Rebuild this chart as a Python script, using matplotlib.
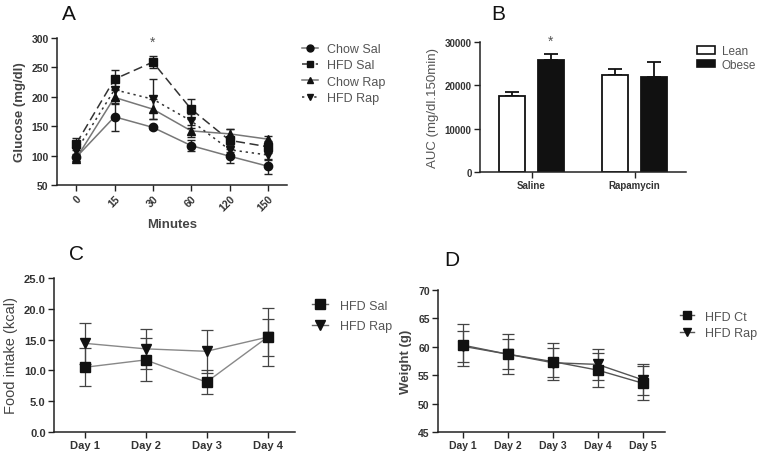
import matplotlib
matplotlib.use("Agg")
import matplotlib.pyplot as plt
import numpy as np
from matplotlib.lines import Line2D
from matplotlib.patches import Patch

plt.rcParams['font.family'] = ['Liberation Sans', 'DejaVu Sans']

# ---------------- Data ----------------
# Panel A
minutes = ["0", "15", "30", "60", "120", "150"]
chow_sal = [97, 166, 148, 117, 99, 82]
chow_sal_err = [6, 24, 3, 10, 12, 13]
hfd_sal = [120, 230, 259, 179, 126, 115]
hfd_sal_err = [10, 16, 10, 17, 20, 10]
chow_rap = [95, 199, 179, 142, 137, 128]
chow_rap_err = [5, 12, 17, 10, 8, 6]
hfd_rap = [108, 212, 196, 159, 110, 101]
hfd_rap_err = [8, 18, 34, 12, 8, 8]

# Panel B
treatments = ["Saline", "Rapamycin"]
auc_lean = [17600, 22500]
auc_lean_err = [900, 1200]
auc_obese = [25800, 22000]
auc_obese_err = [1400, 3400]

# Panel C
days_c = ["Day 1", "Day 2", "Day 3", "Day 4"]
food_sal = [10.5, 11.7, 8.1, 15.4]
food_sal_err = [3.1, 3.5, 2.0, 4.7]
food_rap = [14.4, 13.5, 13.1, 15.4]
food_rap_err = [3.3, 3.2, 3.5, 3.0]

# Panel D
days_d = ["Day 1", "Day 2", "Day 3", "Day 4", "Day 5"]
wt_ct = [60.3, 58.7, 57.4, 55.9, 53.6]
wt_ct_err = [3.7, 3.5, 3.3, 3.0, 3.0]
wt_rap = [60.1, 58.7, 57.2, 56.9, 54.2]
wt_rap_err = [2.7, 2.6, 2.6, 2.7, 2.7]

# ---------------- Figure ----------------
W, H = 758, 460
fig = plt.figure(figsize=(W / 100, H / 100), dpi=100)

def ax_px(l, r, b, t):
    return fig.add_axes([l / W, 1 - b / H, (r - l) / W, (b - t) / H])

TXT = '#555555'
DARK = '#222222'

def style(ax, size=7.5):
    for s in ['top', 'right']:
        ax.spines[s].set_visible(False)
    for s in ['left', 'bottom']:
        ax.spines[s].set_color(DARK)
        ax.spines[s].set_linewidth(1.1)
    ax.tick_params(direction='out', length=4, width=1.0, color=DARK,
                   labelsize=size, labelcolor='#333333', pad=2)
    for lb in ax.get_xticklabels() + ax.get_yticklabels():
        lb.set_fontweight('bold')

def panel_label(x, y, s):
    fig.text(x / W, 1 - y / H, s, fontsize=15, color='#111111',
             ha='left', va='center')

# ---- Panel A ----
axA = ax_px(57, 287, 186, 39)
xa = np.arange(len(minutes))
series_A = [
    (chow_sal, chow_sal_err, 'o', '-', '#777777', 'Chow Sal'),
    (hfd_sal, hfd_sal_err, 's', (0, (6, 3)), '#333333', 'HFD Sal'),
    (chow_rap, chow_rap_err, '^', '-', '#777777', 'Chow Rap'),
    (hfd_rap, hfd_rap_err, 'v', (0, (1.5, 2.5)), '#333333', 'HFD Rap'),
]
handlesA = []
for vals, err, m, ls, lc, lab in series_A:
    axA.plot(xa, vals, linestyle=ls, color=lc, lw=1.1, zorder=2)
    axA.errorbar(xa, vals, yerr=err, fmt='none', ecolor='#222222',
                 elinewidth=1.0, capsize=3, capthick=1.0, zorder=3)
    axA.plot(xa, vals, linestyle='none', marker=m, ms=6, color='#111111', zorder=4)
    handlesA.append(Line2D([0], [0], linestyle=ls, color=lc, lw=1.1, marker=m,
                           ms=5, markerfacecolor='#111111', markeredgecolor='#111111'))
axA.set_xlim(-0.5, 5.5)
axA.set_ylim(50, 300)
axA.set_yticks([50, 100, 150, 200, 250, 300])
axA.set_xticks(xa)
axA.set_xticklabels(minutes)
style(axA)
for lb in axA.get_xticklabels():
    lb.set_rotation(45)
    lb.set_ha('right')
    lb.set_rotation_mode('anchor')
axA.set_xlabel('Minutes', fontsize=9.5, fontweight='bold', color='#444444', labelpad=4)
axA.set_ylabel('Glucose (mg/dl)', fontsize=9.5, fontweight='bold', color='#444444', labelpad=4)
axA.text(2, 293, '*', ha='center', va='center', fontsize=10, color='#555555')
fig.legend(handles=handlesA, labels=[s[5] for s in series_A], loc='center left',
           bbox_to_anchor=(302 / W, 1 - 74.5 / H), frameon=False, fontsize=9,
           labelcolor=TXT, handlelength=1.3, handletextpad=0.7, labelspacing=0.35,
           borderpad=0, borderaxespad=0)
panel_label(62, 14, 'A')

# ---- Panel B ----
axB = ax_px(480, 686, 173, 43)
xb = np.arange(len(treatments))
off, bw = 0.187, 0.254
axB.bar(xb - off, auc_lean, width=bw, color='white', edgecolor='#111111', lw=1.3, zorder=2)
axB.bar(xb + off, auc_obese, width=bw, color='#111111', edgecolor='#111111', lw=1.3, zorder=2)
axB.errorbar(xb - off, auc_lean, yerr=[[0, 0], auc_lean_err], fmt='none', ecolor='#111111',
             elinewidth=1.3, capsize=5, capthick=1.3, zorder=1)
axB.errorbar(xb + off, auc_obese, yerr=[[0, 0], auc_obese_err], fmt='none', ecolor='#111111',
             elinewidth=1.3, capsize=5, capthick=1.3, zorder=1)
axB.set_xlim(-0.5, 1.5)
axB.set_ylim(0, 30000)
axB.set_yticks([0, 10000, 20000, 30000])
axB.set_xticks(xb)
axB.set_xticklabels(treatments)
style(axB, 7)
axB.set_ylabel('AUC (mg/dl.150min)', fontsize=9.5, color=TXT, labelpad=4)
axB.text(0 + off, 30300, '*', ha='center', va='center', fontsize=10, color='#555555',
         clip_on=False)
fig.legend(handles=[Patch(facecolor='white', edgecolor='#111111', lw=1.2),
                    Patch(facecolor='#111111', edgecolor='#111111', lw=1.2)],
           labels=['Lean', 'Obese'], loc='center left',
           bbox_to_anchor=(697 / W, 1 - 59 / H), frameon=False, fontsize=8.5,
           labelcolor=TXT, handlelength=1.5, handleheight=0.6, handletextpad=0.6,
           labelspacing=0.15, borderpad=0, borderaxespad=0)
panel_label(491, 14, 'B')

# ---- Panel C ----
axC = ax_px(54, 295, 433, 279)
xc = np.arange(len(days_c))
handlesC = []
for vals, err, m, lab in [(food_sal, food_sal_err, 's', 'HFD Sal'),
                          (food_rap, food_rap_err, 'v', 'HFD Rap')]:
    axC.plot(xc, vals, '-', color='#888888', lw=1.0, zorder=2)
    axC.errorbar(xc, vals, yerr=err, fmt='none', ecolor='#444444',
                 elinewidth=0.9, capsize=4, capthick=0.9, zorder=3)
    axC.plot(xc, vals, linestyle='none', marker=m, ms=7, color='#111111', zorder=4)
    handlesC.append(Line2D([0], [0], linestyle='-', color='#666666', lw=1.0, marker=m,
                           ms=6.5, markerfacecolor='#111111', markeredgecolor='#111111'))
axC.set_xlim(-0.5, 3.45)
axC.set_ylim(0, 25)
axC.set_yticks([0, 5, 10, 15, 20, 25])
axC.set_yticklabels(['0.0', '5.0', '10.0', '15.0', '20.0', '25.0'])
axC.set_xticks(xc)
axC.set_xticklabels(days_c)
style(axC, 8)
axC.set_ylabel('Food intake (kcal)', fontsize=10.5, color='#444444', labelpad=4)
fig.legend(handles=handlesC, labels=['HFD Sal', 'HFD Rap'], loc='center left',
           bbox_to_anchor=(312 / W, 1 - 317 / H), frameon=False, fontsize=9,
           labelcolor=TXT, handlelength=1.3, handletextpad=0.9, labelspacing=0.7,
           borderpad=0, borderaxespad=0)
panel_label(69, 255, 'C')

# ---- Panel D ----
axD = ax_px(438, 665, 433, 291)
xd = np.arange(len(days_d))
handlesD = []
for vals, err, m, lab in [(wt_ct, wt_ct_err, 's', 'HFD Ct'),
                          (wt_rap, wt_rap_err, 'v', 'HFD Rap')]:
    axD.plot(xd, vals, '-', color='#555555', lw=1.0, zorder=2)
    axD.errorbar(xd, vals, yerr=err, fmt='none', ecolor='#444444',
                 elinewidth=0.9, capsize=4, capthick=0.9, zorder=3)
    axD.plot(xd, vals, linestyle='none', marker=m, ms=6.5, color='#111111', zorder=4)
    handlesD.append(Line2D([0], [0], linestyle='-', color='#555555', lw=1.0, marker=m,
                           ms=6, markerfacecolor='#111111', markeredgecolor='#111111'))
axD.set_xlim(-0.55, 4.5)
axD.set_ylim(45, 70)
axD.set_yticks([45, 50, 55, 60, 65, 70])
axD.set_xticks(xd)
axD.set_xticklabels(days_d)
style(axD, 7.5)
axD.set_ylabel('Weight (g)', fontsize=9.5, fontweight='bold', color='#444444', labelpad=4)
fig.legend(handles=handlesD, labels=['HFD Ct', 'HFD Rap'], loc='center left',
           bbox_to_anchor=(680 / W, 1 - 326 / H), frameon=False, fontsize=9,
           labelcolor=TXT, handlelength=1.1, handletextpad=0.9, labelspacing=0.35,
           borderpad=0, borderaxespad=0)
panel_label(444, 261, 'D')

fig.savefig('out.png', dpi=100, facecolor='white')
